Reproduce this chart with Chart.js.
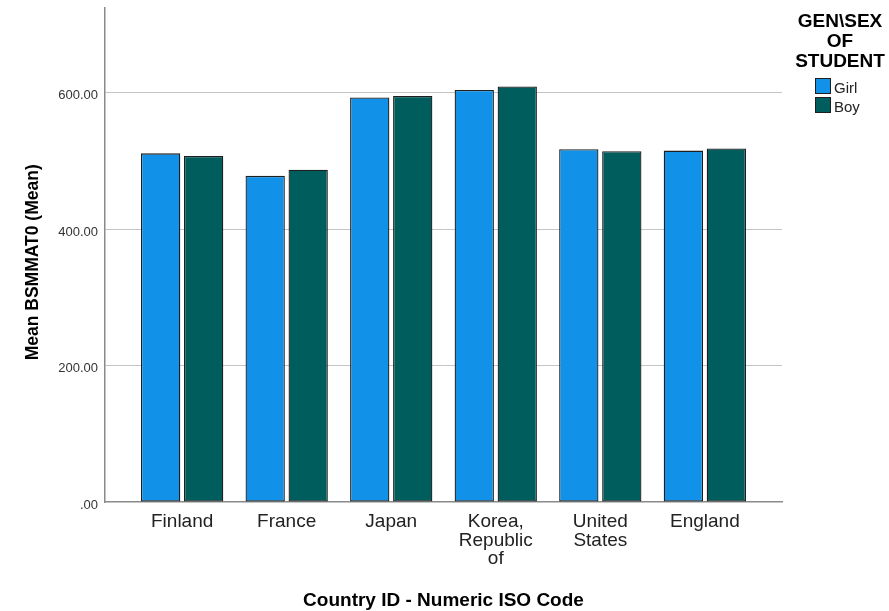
<!DOCTYPE html>
<html>
<head>
<meta charset="utf-8">
<script src="https://cdn.jsdelivr.net/npm/chart.js@4.4.1/dist/chart.umd.min.js"></script>
<style>
  html, body { margin: 0; padding: 0; background: #ffffff; }
  #wrap { width: 889px; height: 611px; position: relative; }
  canvas { display: block; }
</style>
</head>
<body>
<div id="wrap"><canvas id="c" width="889" height="611"></canvas></div>
<script>
// ---- data ----
const categories = ['Finland', 'France', 'Japan', 'Korea, Republic of', 'United States', 'England'];
const categoryTickLines = [['Finland'], ['France'], ['Japan'], ['Korea,', 'Republic', 'of'], ['United', 'States'], ['England']];
const girlMeans = [511, 478, 593, 604, 517, 515];
const boyMeans  = [507, 487, 595, 609, 514, 518];
const seriesNames = ['Girl', 'Boy'];
const yTickValues = [0, 200, 400, 600];
const yTickLabels = ['.00', '200.00', '400.00', '600.00'];
const legendTitleLines = ['GEN\\SEX', 'OF', 'STUDENT'];
const yAxisTitle = 'Mean BSMMAT0 (Mean)';
const xAxisTitle = 'Country ID - Numeric ISO Code';

const FONT = '"Liberation Sans", Arial, Helvetica, sans-serif';
const positions = categories.map((c, i) => i);

const legendPlugin = {
  id: 'spssLegend',
  afterDraw(chart) {
    const ctx = chart.ctx;
    ctx.save();
    ctx.fillStyle = '#000';
    ctx.font = 'bold 19px ' + FONT;
    ctx.textAlign = 'center';
    ctx.textBaseline = 'alphabetic';
    legendTitleLines.forEach((t, i) => ctx.fillText(t, 840, 26.5 + i * 20));
    ctx.font = '15px ' + FONT;
    ctx.textAlign = 'left';
    chart.data.datasets.forEach((ds, i) => {
      const top = 78.5 + i * 19;
      ctx.fillStyle = ds.backgroundColor;
      ctx.fillRect(815.5, top, 15, 15);
      ctx.strokeStyle = '#1e1e1e';
      ctx.lineWidth = 1;
      ctx.strokeRect(815.5, top, 15, 15);
      ctx.fillStyle = '#222';
      ctx.fillText(ds.label, 834, top + 14.5);
    });
    ctx.restore();
  }
};

new Chart(document.getElementById('c'), {
  type: 'bar',
  data: {
    datasets: [
      {
        label: seriesNames[0],
        data: positions.map((p, i) => ({ x: p, y: girlMeans[i] })),
        backgroundColor: '#1192e8',
        borderColor: '#1e1e1e',
        borderWidth: 1.3,
        borderSkipped: false
      },
      {
        label: seriesNames[1],
        data: positions.map((p, i) => ({ x: p, y: boyMeans[i] })),
        backgroundColor: '#005d5d',
        borderColor: '#1e1e1e',
        borderWidth: 1.3,
        borderSkipped: false
      }
    ]
  },
  options: {
    responsive: false,
    animation: false,
    devicePixelRatio: 1,
    categoryPercentage: 0.8225,
    barPercentage: 0.914,
    layout: { padding: { top: 8, right: 107, left: 0, bottom: 0 } },
    plugins: {
      legend: { display: false },
      tooltip: { enabled: false }
    },
    scales: {
      x: {
        type: 'linear',
        min: -0.738,
        max: 5.738,
        offset: false,
        grid: { display: false, offset: false, drawTicks: false },
        border: { display: true, color: '#8a8a8a', width: 1.5 },
        afterBuildTicks: (scale) => { scale.ticks = positions.map(v => ({ value: v })); },
        afterFit: (scale) => { scale.height = 109; scale.paddingLeft = 0; scale.paddingRight = 0; },
        ticks: {
          autoSkip: false,
          maxRotation: 0,
          minRotation: 0,
          padding: 11,
          color: '#222',
          font: { family: FONT, size: 19, lineHeight: 0.97 },
          callback: (value, index) => categoryTickLines[index]
        },
        title: {
          display: true,
          text: xAxisTitle,
          color: '#000',
          font: { family: FONT, size: 19, weight: 'bold', lineHeight: 1 },
          padding: { top: 0, bottom: 0.4 }
        }
      },
      y: {
        min: 0,
        max: 724,
        grid: {
          drawTicks: false,
          color: (ctx) => (ctx.tick && ctx.tick.value === 0) ? 'rgba(0,0,0,0)' : '#c4c4c4',
          lineWidth: 1
        },
        border: { display: true, color: '#8a8a8a', width: 1.5 },
        afterBuildTicks: (scale) => { scale.ticks = yTickValues.map(v => ({ value: v })); },
        afterFit: (scale) => { scale.width = 105; scale.paddingTop = 0; scale.paddingBottom = 0; },
        ticks: {
          padding: 7,
          labelOffset: 3,
          color: '#333',
          font: { family: FONT, size: 13 },
          callback: (value, index) => yTickLabels[index]
        },
        title: {
          display: true,
          text: yAxisTitle + '\u00a0\u00a0\u00a0',
          color: '#000',
          font: { family: FONT, size: 17.5, weight: 'bold', lineHeight: 1 },
          padding: { top: 24, bottom: 0 }
        }
      }
    }
  },
  plugins: [legendPlugin]
});
</script>
</body>
</html>
